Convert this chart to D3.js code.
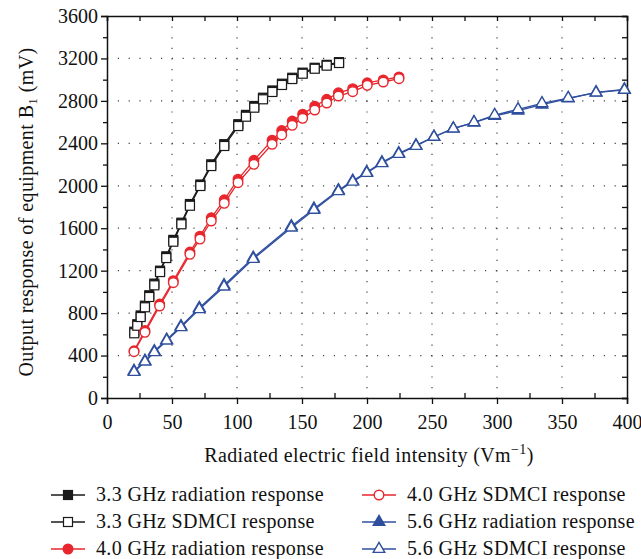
<html>
<head>
<script src="https://d3js.org/d3.v7.min.js" charset="utf-8"></script>
<style>
  body { margin: 0; background: white; }
  text { font-family: "Liberation Serif", "DejaVu Serif", serif; }
</style>
</head>
<body>
<script>
// values (x in V/m, y in mV)
var b33x = [21, 23.3, 25.9, 29.2, 32.5, 36.4, 40.8, 45.6, 51, 57.2, 63.8, 71.8, 80.2, 90.2, 101, 106.9, 113.3, 120, 127.2, 134.6, 142.5, 150.5, 159.8, 169, 178.5];
var b33rad = [625, 695, 778, 870, 968, 1078, 1200, 1335, 1490, 1652, 1828, 2012, 2202, 2392, 2580, 2668, 2752, 2830, 2898, 2962, 3018, 3066, 3112, 3140, 3165];
var b33sdm = [610, 681, 763, 855, 952, 1062, 1187, 1319, 1473, 1637, 1812, 1998, 2186, 2375, 2563, 2651, 2736, 2815, 2884, 2950, 3006, 3056, 3103, 3132, 3157];

var r40x = [20.8, 29.2, 40.5, 51, 63.8, 71.5, 80.2, 90.2, 100.8, 113, 127, 134.4, 142.5, 150.5, 159.8, 169, 178, 189, 200.2, 212.5, 224.6];
var r40rad = [445, 635, 885, 1105, 1375, 1525, 1698, 1868, 2062, 2240, 2430, 2520, 2610, 2675, 2750, 2815, 2876, 2915, 2970, 2998, 3025];
var r40sdm = [436, 619, 867, 1087, 1354, 1498, 1668, 1835, 2029, 2202, 2391, 2479, 2570, 2636, 2714, 2780, 2846, 2887, 2947, 2978, 3009];

var b56x = [20.8, 29.2, 36.4, 45.9, 56.9, 71, 90, 112.5, 141.8, 159.2, 178, 189, 199.8, 211.5, 224.4, 237.7, 251.5, 266.4, 282.3, 298.2, 316.2, 334.6, 354.8, 376.2, 398];
var b56rad = [255, 350, 440, 548, 676, 848, 1062, 1322, 1618, 1784, 1958, 2046, 2128, 2220, 2306, 2380, 2462, 2540, 2595, 2658, 2708, 2765, 2822, 2880, 2908];
var b56sdm = [245, 342, 431, 540, 666, 836, 1049, 1310, 1605, 1772, 1948, 2038, 2120, 2212, 2299, 2375, 2460, 2538, 2598, 2667, 2721, 2777, 2827, 2877, 2903];

var xTicks = [0, 50, 100, 150, 200, 250, 300, 350, 400];
var yTicks = [0, 400, 800, 1200, 1600, 2000, 2400, 2800, 3200, 3600];

var legendNames = ["3.3 GHz radiation response", "3.3 GHz SDMCI response", "4.0 GHz radiation response",
                   "4.0 GHz SDMCI response", "5.6 GHz radiation response", "5.6 GHz SDMCI response"];

var width = 641, height = 559;
var margin = {left: 107, right: 627, top: 16, bottom: 398};

var black = "#1a1a1a", red = "#e8262d", blue = "#2f4f9e";

var series = [
  {x: b33x, y: b33rad, color: black, shape: "square", filled: true},
  {x: b33x, y: b33sdm, color: black, shape: "square", filled: false},
  {x: r40x, y: r40rad, color: red, shape: "circle", filled: true},
  {x: r40x, y: r40sdm, color: red, shape: "circle", filled: false},
  {x: b56x, y: b56rad, color: blue, shape: "triangle", filled: true},
  {x: b56x, y: b56sdm, color: blue, shape: "triangle", filled: false}
];

var svg = d3.select("body").append("svg")
  .attr("width", width)
  .attr("height", height);

var x = d3.scaleLinear().domain([0, 400]).range([margin.left, margin.right]);
var y = d3.scaleLinear().domain([0, 3600]).range([margin.bottom, margin.top]);

// dotted grid
var grid = svg.append("g");
grid.selectAll("line.vg")
  .data(xTicks.slice(1, -1))
  .enter().append("line")
  .attr("x1", d => x(d)).attr("x2", d => x(d))
  .attr("y1", margin.top).attr("y2", margin.bottom)
  .attr("stroke", "#444").attr("stroke-width", 1.2)
  .attr("stroke-dasharray", "1.2,9.4");
grid.selectAll("line.hg")
  .data(yTicks.slice(1, -1))
  .enter().append("line")
  .attr("x1", margin.left).attr("x2", margin.right)
  .attr("y1", d => y(d)).attr("y2", d => y(d))
  .attr("stroke", "#444").attr("stroke-width", 1.2)
  .attr("stroke-dasharray", "1.2,9.6");

// axes
var xMinor = d3.range(25, 400, 50);
var yMinor = d3.range(200, 3600, 400);

svg.append("g")
  .attr("transform", "translate(0," + margin.bottom + ")")
  .call(d3.axisBottom(x).tickValues(xTicks).tickFormat(d3.format("d")).tickSize(6).tickPadding(11))
  .call(g => g.selectAll("text").attr("font-size", 20).attr("fill", "#111"));
svg.append("g")
  .attr("transform", "translate(0," + margin.bottom + ")")
  .call(d3.axisBottom(x).tickValues(xMinor).tickSize(-5).tickFormat(""))
  .call(g => g.select(".domain").remove());
svg.append("g")
  .attr("transform", "translate(" + margin.left + ",0)")
  .call(d3.axisLeft(y).tickValues(yTicks).tickFormat(d3.format("d")).tickSize(6).tickPadding(3))
  .call(g => g.selectAll("text").attr("font-size", 20).attr("fill", "#111"));
svg.append("g")
  .attr("transform", "translate(" + margin.left + ",0)")
  .call(d3.axisLeft(y).tickValues(yMinor).tickSize(4).tickFormat(""))
  .call(g => g.select(".domain").remove());
svg.append("g")
  .attr("transform", "translate(0," + margin.top + ")")
  .call(d3.axisTop(x).tickValues(xTicks.concat(xMinor)).tickSize(-5).tickFormat(""));
svg.append("g")
  .attr("transform", "translate(" + margin.right + ",0)")
  .call(d3.axisRight(y).tickValues(yTicks.concat(yMinor)).tickSize(-5).tickFormat(""));
svg.selectAll(".domain").attr("stroke", "#111").attr("stroke-width", 1.5);
svg.selectAll(".tick line").attr("stroke", "#111").attr("stroke-width", 1.3);

// axis titles
svg.append("text")
  .attr("x", (margin.left + margin.right) / 2 + 2)
  .attr("y", 462)
  .attr("text-anchor", "middle")
  .attr("font-size", 20)
  .attr("letter-spacing", 0.4)
  .attr("fill", "#111")
  .html('Radiated electric field intensity (Vm<tspan dy="-8" font-size="14">\u22121</tspan><tspan dy="8">)</tspan>');

svg.append("text")
  .attr("transform", "translate(33," + ((margin.top + margin.bottom) / 2 + 5) + ") rotate(-90)")
  .attr("text-anchor", "middle")
  .attr("font-size", 20)
  .attr("letter-spacing", 0.4)
  .attr("fill", "#111")
  .html('Output response of equipment B<tspan dy="4" font-size="13">1</tspan><tspan dy="-4"> (mV)</tspan>');

// markers
function drawMarker(g, shape, color, filled, cx, cy) {
  var fill = filled ? color : "white";
  if (shape == "square") {
    g.append("rect").attr("x", cx - 4.5).attr("y", cy - 4.5).attr("width", 9).attr("height", 9)
      .attr("fill", fill).attr("stroke", color).attr("stroke-width", 1.2);
  } else if (shape == "circle") {
    g.append("circle").attr("cx", cx).attr("cy", cy).attr("r", 4.8)
      .attr("fill", fill).attr("stroke", color).attr("stroke-width", 1.4);
  } else {
    g.append("path").attr("d", d3.symbol().type(d3.symbolTriangle).size(58)())
      .attr("transform", "translate(" + cx + "," + cy + ")")
      .attr("fill", fill).attr("stroke", color).attr("stroke-width", 1.4);
  }
}

var line = d3.line().x(d => x(d[0])).y(d => y(d[1]));
var plot = svg.append("g");

series.forEach(function(s) {
  var pts = s.x.map((v, i) => [v, s.y[i]]);
  plot.append("path")
    .datum(pts)
    .attr("d", line)
    .attr("fill", "none")
    .attr("stroke", s.color)
    .attr("stroke-width", 1.3);
});
series.forEach(function(s) {
  var g = plot.append("g");
  s.x.forEach(function(v, i) {
    drawMarker(g, s.shape, s.color, s.filled, x(v), y(s.y[i]));
  });
});

// legend
var legend = svg.append("g");
legendNames.forEach(function(name, i) {
  var s = series[i];
  var col = i < 3 ? 0 : 1;
  var row = i % 3;
  var lx = col == 0 ? 51 : 362;
  var ly = 495 + row * 27;
  legend.append("line")
    .attr("x1", lx).attr("x2", lx + 34)
    .attr("y1", ly).attr("y2", ly)
    .attr("stroke", s.color).attr("stroke-width", 1.5);
  drawMarker(legend, s.shape, s.color, s.filled, lx + 17, ly);
  legend.append("text")
    .attr("x", lx + 45)
    .attr("y", ly + 6)
    .attr("font-size", 20)
    .attr("letter-spacing", 0.35)
    .attr("fill", "#111")
    .text(name);
});
</script>
</body>
</html>
